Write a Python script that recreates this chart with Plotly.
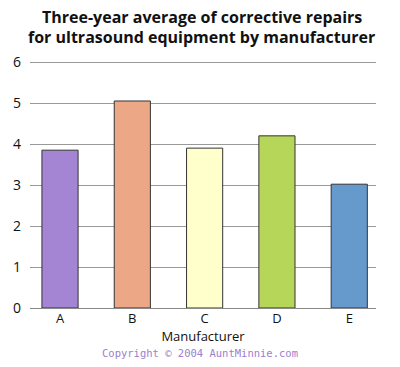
import plotly.graph_objects as go

manufacturers = ["A", "B", "C", "D", "E"]
repairs = [3.85, 5.05, 3.9, 4.2, 3.02]
bar_colors = ["#a385d4", "#eca886", "#ffffcc", "#b6d65a", "#6699cc"]
y_ticks = [0, 1, 2, 3, 4, 5, 6]
title_lines = ["Three-year average of corrective repairs",
               "for ultrasound equipment by manufacturer"]

fig = go.Figure()
fig.add_trace(go.Bar(
    x=manufacturers, y=repairs,
    marker=dict(color=bar_colors, line=dict(color="#333333", width=1)),
    width=0.5,
))

PLOT_TOP, PLOT_BOTTOM = 60, 308
H = PLOT_BOTTOM - PLOT_TOP


def py(pix):
    return (PLOT_BOTTOM - pix) / H


annotations = []
for i, line in enumerate(title_lines):
    annotations.append(dict(
        text="<b>" + line + "</b>", x=0.497, y=py(17 + 20 * i),
        xref="paper", yref="paper", xanchor="center", yanchor="middle",
        showarrow=False, font=dict(size=16, color="#111111")))
annotations.append(dict(
    text="Copyright © 2004 AuntMinnie.com", x=0.491, y=py(353),
    xref="paper", yref="paper", xanchor="center", yanchor="middle",
    showarrow=False,
    font=dict(family="DejaVu Sans Mono, monospace", size=10.5, color="#9b80cf")))

fig.update_layout(
    width=400, height=367,
    margin=dict(l=30, r=24, t=PLOT_TOP, b=367 - PLOT_BOTTOM),
    paper_bgcolor="white", plot_bgcolor="white",
    showlegend=False,
    font=dict(family="Open Sans, Noto Sans, sans-serif", color="#111111"),
    xaxis=dict(
        range=[-0.415, 4.37], automargin=False,
        showline=True, linecolor="#888888", linewidth=1,
        ticks="", tickfont=dict(size=13), ticklabelstandoff=-2,
        title=dict(text="Manufacturer", font=dict(size=13), standoff=0),
    ),
    yaxis=dict(
        range=[0, 6.05], tickvals=y_ticks, automargin=False,
        showgrid=True, gridcolor="#999999", gridwidth=1,
        zeroline=False, showline=False, ticks="",
        tickfont=dict(size=14), ticklabelstandoff=8,
    ),
    annotations=annotations,
)
fig.write_html("out.html", config={"displayModeBar": False},
               post_script="document.body.style.margin='0';")
